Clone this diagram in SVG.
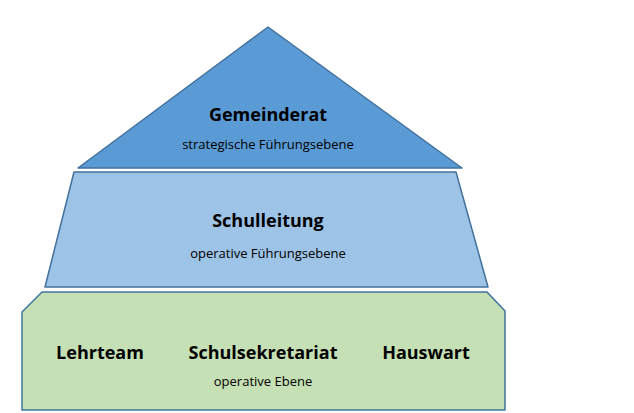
<svg xmlns="http://www.w3.org/2000/svg" width="634" height="413" viewBox="0 0 634 413">
<style>
.s{stroke:#41719c;stroke-width:1.5;stroke-linejoin:round}
.t{font-family:"Open Sans","Liberation Sans",sans-serif;fill:#000;text-anchor:middle}
.b{font-weight:bold;font-size:18px}
.n{font-size:13px}
</style>
<rect width="634" height="413" fill="#fff"/>
<g id="gemeinderat">
<polygon class="s" points="268,27 462,168 78,168" fill="#5b9bd5"/>
<text class="t b" x="268" y="121">Gemeinderat</text>
<text class="t n" x="268" y="149">strategische Führungsebene</text>
</g>
<g id="schulleitung">
<polygon class="s" points="74,172 456,172 488,287 45,287" fill="#9dc3e6"/>
<text class="t b" x="268" y="227">Schulleitung</text>
<text class="t n" x="268" y="258">operative Führungsebene</text>
</g>
<g id="ebene">
<polygon class="s" points="42,292 487,292 505,311 505,410 22,410 22,312" fill="#c5e0b4"/>
<text class="t b" x="100" y="359">Lehrteam</text>
<text class="t b" x="263" y="359">Schulsekretariat</text>
<text class="t b" x="426" y="359">Hauswart</text>
<text class="t n" x="263" y="386">operative Ebene</text>
</g>
<g id="connectors"/>
</svg>
